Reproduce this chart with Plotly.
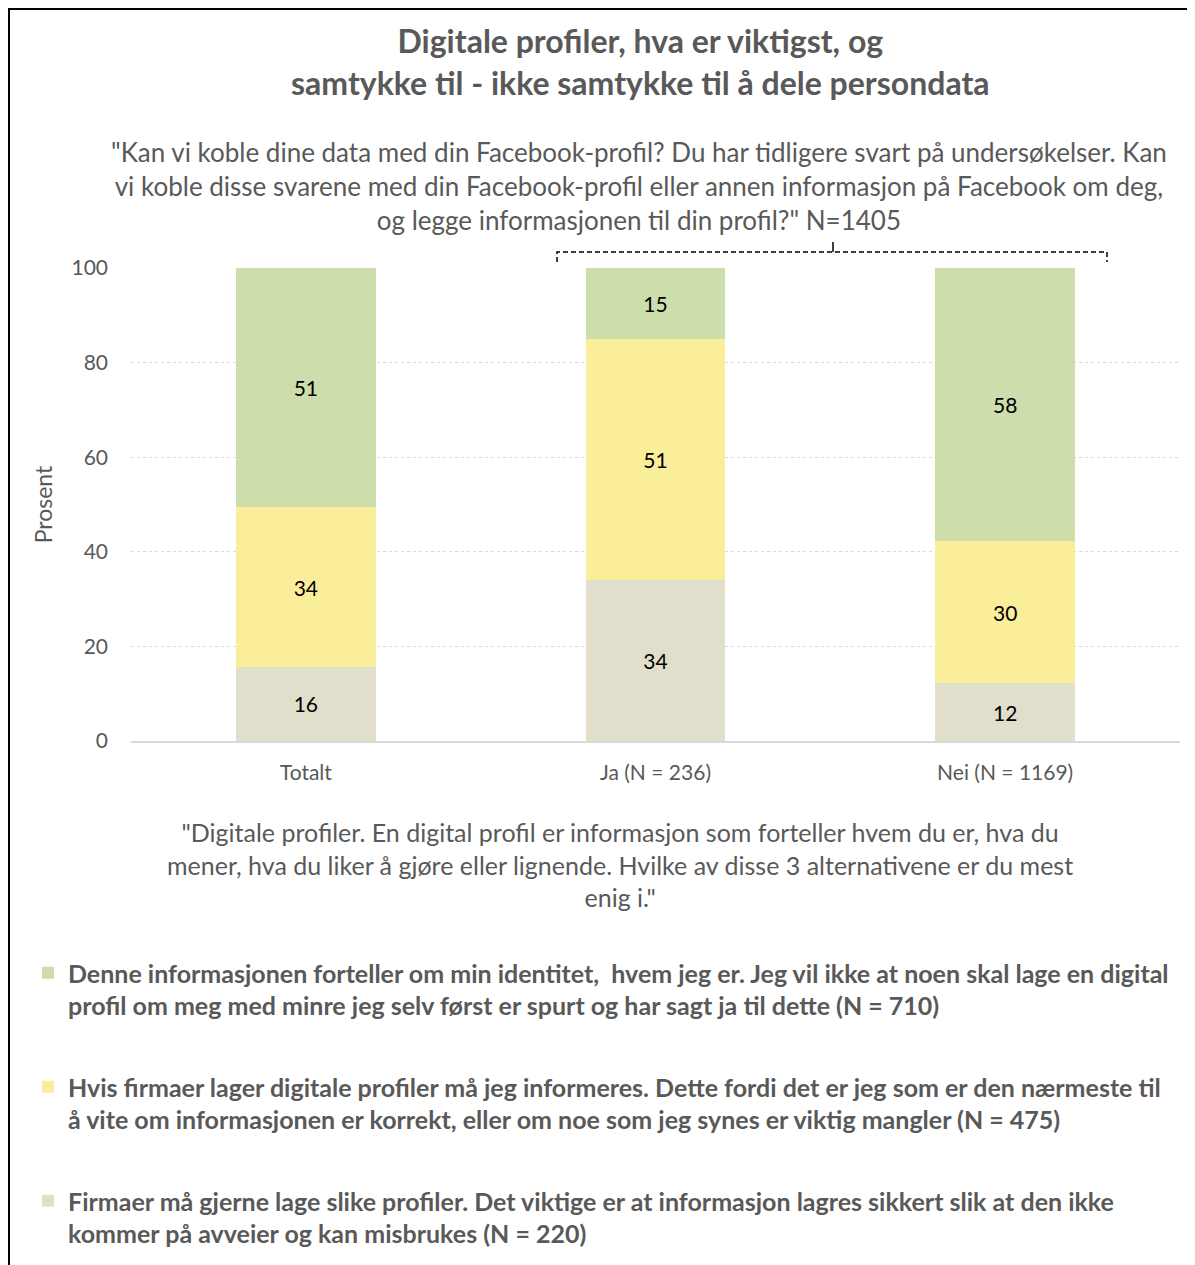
import plotly.graph_objects as go

categories = ["Totalt", "Ja (N = 236)", "Nei (N = 1169)"]
grey_vals = [15.7, 34.0, 12.2]
yellow_vals = [33.7, 51.0, 30.0]
green_vals = [50.6, 15.0, 57.8]

series_names = [
    "Firmaer må gjerne lage slike profiler. Det viktige er at informasjon lagres sikkert slik at den ikke<br>kommer på avveier og kan misbrukes (N = 220)",
    "Hvis firmaer lager digitale profiler må jeg informeres. Dette fordi det er jeg som er den nærmeste til<br>å vite om informasjonen er korrekt, eller om noe som jeg synes er viktig mangler (N = 475)",
    "Denne informasjonen forteller om min identitet,  hvem jeg er. Jeg vil ikke at noen skal lage en digital<br>profil om meg med minre jeg selv først er spurt og har sagt ja til dette (N = 710)",
]
legend_ranks = [3, 2, 1]
colors = ["#E1DFCB", "#FBEE9B", "#CDDDAB"]

title_text = "<b>Digitale profiler, hva er viktigst, og<br>samtykke til - ikke samtykke til å dele persondata</b>"
subtitle_text = ("\"Kan vi koble dine data med din Facebook-profil? Du har tidligere svart på undersøkelser. Kan<br>"
                 "vi koble disse svarene med din Facebook-profil eller annen informasjon på Facebook om deg,<br>"
                 "og legge informasjonen til din profil?\" N=1405")
question2_text = ("\"Digitale profiler. En digital profil er informasjon som forteller hvem du er, hva du<br>"
                  "mener, hva du liker å gjøre eller lignende. Hvilke av disse 3 alternativene er du mest<br>"
                  "enig i.\"")

OFF = 8  # page body offset
W, H = 1195 - OFF, 1265 - OFF
L, R = 131 - OFF, 1180 - OFF
T, B = 268 - OFF, 741 - OFF
FONT = "Lato"
GREY_TXT = "#595959"


def px_x(px):
    return (px - OFF - L) / (R - L)


def px_y(py):
    return (B - (py - OFF)) / (B - T)


fig = go.Figure()
for vals, name, col, rank in zip([grey_vals, yellow_vals, green_vals], series_names, colors, legend_ranks):
    fig.add_trace(go.Bar(
        x=categories, y=vals, name="<b>" + name + "</b>",
        marker=dict(color=col, line=dict(width=0)),
        texttemplate="%{y:.0f}", textposition="inside", insidetextanchor="middle",
        textfont=dict(family=FONT, size=21, color="#000000"),
        legendgroup="g%d" % rank, legendrank=rank, width=0.4,
    ))

fig.update_layout(
    width=W, height=H,
    barmode="stack",
    plot_bgcolor="white", paper_bgcolor="white",
    margin=dict(l=L, r=W - R, t=T, b=H - B, autoexpand=False),
    font=dict(family=FONT, color=GREY_TXT),
    showlegend=True,
    legend=dict(
        x=px_x(28), y=px_y(950), xanchor="left", yanchor="top",
        traceorder="grouped", tracegroupgap=46, valign="top",
        font=dict(family=FONT, size=25, color=GREY_TXT),
        bgcolor="rgba(0,0,0,0)",
    ),
)

fig.update_yaxes(
    range=[0, 100], tickvals=[0, 20, 40, 60, 80, 100],
    showgrid=True, gridcolor="#D9D9D9", griddash="dot", gridwidth=1,
    zeroline=False, showline=False, ticks="", ticklabelstandoff=22,
    tickfont=dict(family=FONT, size=21, color=GREY_TXT),
    title=dict(text="Prosent", font=dict(family=FONT, size=23, color=GREY_TXT), standoff=12),
)
fig.update_xaxes(
    showline=True, linecolor="#D9D9D9", linewidth=2, showgrid=False, ticks="",
    tickfont=dict(family=FONT, size=21, color=GREY_TXT), ticklabelstandoff=12,
)

annotations = [
    dict(text=title_text, x=px_x(640), y=px_y(62), xref="paper", yref="paper",
         xanchor="center", yanchor="middle", showarrow=False,
         font=dict(family=FONT, size=32, color=GREY_TXT)),
    dict(text=subtitle_text, x=px_x(639), y=px_y(186), xref="paper", yref="paper",
         xanchor="center", yanchor="middle", showarrow=False,
         font=dict(family=FONT, size=26, color=GREY_TXT)),
    dict(text=question2_text, x=px_x(620), y=px_y(864), xref="paper", yref="paper",
         xanchor="center", yanchor="middle", showarrow=False,
         font=dict(family=FONT, size=25, color=GREY_TXT)),
]
fig.update_layout(annotations=annotations)

# bracket (dashed) above Ja / Nei
bx0, bx1, bxm = px_x(557), px_x(1107), px_x(833)
by_top, by_bot, by_tip = px_y(252), px_y(262), px_y(242)
shapes = [
    dict(type="path", xref="paper", yref="paper",
         path=f"M {bx0},{by_bot} L {bx0},{by_top} L {bx1},{by_top} L {bx1},{by_bot}",
         line=dict(color="black", width=1.5, dash="5px,3px")),
    dict(type="line", xref="paper", yref="paper", x0=bxm, x1=bxm, y0=by_top, y1=by_tip,
         line=dict(color="black", width=1.5)),
    # frame
    dict(type="line", xref="paper", yref="paper", x0=px_x(9), x1=px_x(9), y0=px_y(8), y1=px_y(1265),
         line=dict(color="black", width=2)),
    dict(type="line", xref="paper", yref="paper", x0=px_x(8), x1=px_x(1195), y0=px_y(9), y1=px_y(9),
         line=dict(color="black", width=2)),
]
fig.update_layout(shapes=shapes)

fig.write_html("out.html")
